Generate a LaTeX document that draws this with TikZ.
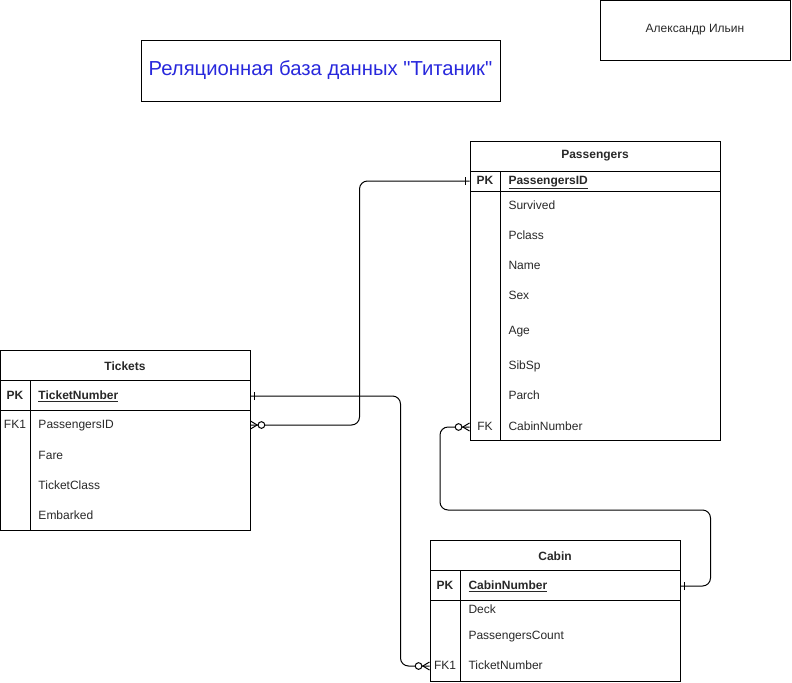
\documentclass[tikz,border=0pt]{standalone}
\usepackage{fontspec}
\setmainfont{Liberation Sans}
\newfontfamily\titlefont{Liberation Sans}[Ligatures=TeXOff]
\usepackage{xcolor}
\definecolor{titleBlue}{RGB}{40, 40, 220}
\definecolor{erText}{RGB}{40, 40, 40}

% ER line ends
\pgfdeclarearrow{
  name = ERone,
  setup code = {
    \pgfarrowssettipend{0pt}
    \pgfarrowssetlineend{0pt}
    \pgfarrowssetbackend{-4pt}
    \pgfarrowshullpoint{0pt}{3pt}
    \pgfarrowshullpoint{-4pt}{3pt}
    \pgfarrowshullpoint{-4pt}{-3pt}
    \pgfarrowshullpoint{0pt}{-3pt}
  },
  drawing code = {
    \pgfpathmoveto{\pgfqpoint{-3pt}{3pt}}
    \pgfpathlineto{\pgfqpoint{-3pt}{-3pt}}
    \pgfusepathqstroke
  },
}
\pgfdeclarearrow{
  name = ERzeroMany,
  setup code = {
    \pgfarrowssettipend{0pt}
    \pgfarrowssetlineend{0pt}
    \pgfarrowssetbackend{-11pt}
    \pgfarrowshullpoint{0pt}{3pt}
    \pgfarrowshullpoint{-11pt}{3pt}
    \pgfarrowshullpoint{-11pt}{-3pt}
    \pgfarrowshullpoint{0pt}{-3pt}
  },
  drawing code = {
    \pgfpathmoveto{\pgfqpoint{0pt}{3pt}}
    \pgfpathlineto{\pgfqpoint{-5pt}{0pt}}
    \pgfpathlineto{\pgfqpoint{0pt}{-3pt}}
    \pgfusepathqstroke
    \pgfpathcircle{\pgfqpoint{-8.2pt}{0pt}}{2.5pt}
    \pgfsetfillcolor{white}
    \pgfusepathqfillstroke
  },
}

\begin{document}
\begin{tikzpicture}[x=0.75pt, y=-0.75pt, line width=0.75pt, font=\fontsize{9}{11}\selectfont]
    % Styles
    \tikzstyle{entity} = [rectangle, draw, minimum width=187.5pt, inner sep=0pt]
    \tikzstyle{header} = [font=\fontsize{9}{11}\selectfont\bfseries, text=erText]
    \tikzstyle{field} = [anchor=west, inner sep=0pt, text height=6.6pt, text depth=2pt, text=erText]
    \tikzstyle{key} = [inner sep=0pt, text height=6.6pt, text depth=2pt, text=erText]
    \tikzstyle{rel} = [rounded corners=6pt]

    \useasboundingbox (0,0) rectangle (792,682);

    % Title and author
    \node[rectangle, draw, minimum width=269.25pt, minimum height=45.75pt, text=titleBlue, font=\titlefont\fontsize{15.2}{18}\selectfont] (title) at (320.5,70.5) {Реляционная база данных "Титаник"};
    \node[rectangle, draw, minimum width=142.5pt, minimum height=45pt, text=erText] (author) at (695,30) {Александр Ильин};

    % Passengers
    \node[entity, minimum height=224.25pt] (pas) at (595,290.5) {};
    \node[header] (pasHead) at (595,156) {Passengers};
    \draw (470,171) -- (720,171);
    \draw (470,191) -- (720,191);
    \draw (500,171) -- (500,440);
    \node[key, font=\fontsize{9}{11}\selectfont\bfseries] (pasPK) at (485,181) {PK};
    \node[field] (pasId) at (508,181) {\textbf{\underline{PassengersID}}};
    \node[field] (pasSurv) at (508,206) {Survived};
    \node[field] (pasClass) at (508,236) {Pclass};
    \node[field] (pasName) at (508,266) {Name};
    \node[field] (pasSex) at (508,296) {Sex};
    \node[field] (pasAge) at (508,331) {Age};
    \node[field] (pasSib) at (508,366) {SibSp};
    \node[field] (pasParch) at (508,396) {Parch};
    \node[key] (pasFK) at (485,427) {FK};
    \node[field] (pasCabin) at (508,427) {CabinNumber};

    % Tickets
    \node[entity, minimum height=135pt] (tk) at (125,440) {};
    \node[header] (tkHead) at (125,366) {Tickets};
    \draw (0,380) -- (250,380);
    \draw (0,410) -- (250,410);
    \draw (30,380) -- (30,530);
    \node[key, font=\fontsize{9}{11}\selectfont\bfseries] (tkPK) at (15,396) {PK};
    \node[field] (tkNum) at (38,396) {\textbf{\underline{TicketNumber}}};
    \node[key] (tkFK) at (15,425) {FK1};
    \node[field] (tkPas) at (38,425) {PassengersID};
    \node[field] (tkFare) at (38,456) {Fare};
    \node[field] (tkClass) at (38,486) {TicketClass};
    \node[field] (tkEmb) at (38,516) {Embarked};

    % Cabin
    \node[entity, minimum height=105.75pt] (cb) at (555,610.5) {};
    \node[header] (cbHead) at (555,556) {Cabin};
    \draw (430,570) -- (680,570);
    \draw (430,600) -- (680,600);
    \draw (460,570) -- (460,681);
    \node[key, font=\fontsize{9}{11}\selectfont\bfseries] (cbPK) at (445,586) {PK};
    \node[field] (cbNum) at (468,586) {\textbf{\underline{CabinNumber}}};
    \node[field] (cbDeck) at (468,610) {Deck};
    \node[field] (cbCount) at (468,636) {PassengersCount};
    \node[key] (cbFK) at (445,666) {FK1};
    \node[field] (cbTicket) at (468,666) {TicketNumber};

    % Relations
    \draw[rel, {ERone}-{ERzeroMany}] (pasPK -| pas.west) -- ++(-110,0) |- (tkFK -| tk.east);
    \draw[rel, {ERone}-{ERzeroMany}] (tkPK -| tk.east) -- ++(150,0) |- (cbFK -| cb.west);
    \draw[rel, {ERone}-{ERzeroMany}] (cbPK -| cb.east) -- ++(30,0) |- (440,510) |- (pasFK -| pas.west);
\end{tikzpicture}
\end{document}
